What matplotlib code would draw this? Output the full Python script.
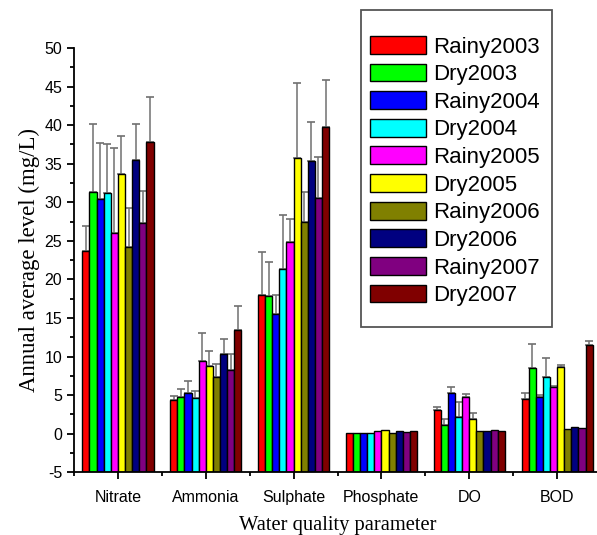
import matplotlib
matplotlib.use("Agg")
import matplotlib.pyplot as plt
import matplotlib.patches as mpatches
import numpy as np
from matplotlib.ticker import MultipleLocator, FixedLocator

plt.rcParams["axes.unicode_minus"] = False

categories = ["Nitrate", "Ammonia", "Sulphate", "Phosphate", "DO", "BOD"]
series = ["Rainy2003", "Dry2003", "Rainy2004", "Dry2004", "Rainy2005",
          "Dry2005", "Rainy2006", "Dry2006", "Rainy2007", "Dry2007"]
colors = ["#ff0000", "#00ff00", "#0000ff", "#00ffff", "#ff00ff",
          "#ffff00", "#808000", "#000080", "#800080", "#800000"]

# values per series, ordered as categories
rainy2003 = [23.7, 4.4, 18.0, 0.05, 3.1, 4.5]
dry2003   = [31.3, 4.8, 17.9, 0.05, 1.15, 8.5]
rainy2004 = [30.4, 5.3, 15.5, 0.05, 5.3, 4.75]
dry2004   = [31.2, 4.6, 21.4, 0.05, 2.15, 7.3]
rainy2005 = [26.0, 9.4, 24.8, 0.35, 4.8, 6.0]
dry2005   = [33.7, 8.75, 35.8, 0.45, 1.9, 8.6]
rainy2006 = [24.2, 7.3, 27.4, 0.15, 0.4, 0.6]
dry2006   = [35.5, 10.3, 35.3, 0.4, 0.3, 0.9]
rainy2007 = [27.3, 8.3, 30.5, 0.25, 0.5, 0.8]
dry2007   = [37.8, 13.4, 39.7, 0.4, 0.3, 11.5]

# upper error bars
err_rainy2003 = [3.2, 0.5, 5.6, 0.0, 0.35, 0.8]
err_dry2003   = [8.8, 1.0, 4.4, 0.0, 0.8, 3.15]
err_rainy2004 = [7.3, 1.6, 2.5, 0.0, 0.8, 0.3]
err_dry2004   = [6.3, 1.0, 7.0, 0.0, 2.0, 2.5]
err_rainy2005 = [11.0, 3.6, 3.0, 0.0, 0.4, 0.15]
err_dry2005   = [4.9, 1.95, 9.7, 0.0, 0.75, 0.35]
err_rainy2006 = [5.1, 1.75, 3.9, 0.0, 0.0, 0.0]
err_dry2006   = [4.6, 2.0, 5.1, 0.0, 0.0, 0.0]
err_rainy2007 = [4.2, 2.05, 5.4, 0.0, 0.0, 0.0]
err_dry2007   = [5.9, 3.1, 6.1, 0.0, 0.0, 0.5]

values = [rainy2003, dry2003, rainy2004, dry2004, rainy2005,
          dry2005, rainy2006, dry2006, rainy2007, dry2007]
errors = [err_rainy2003, err_dry2003, err_rainy2004, err_dry2004, err_rainy2005,
          err_dry2005, err_rainy2006, err_dry2006, err_rainy2007, err_dry2007]

YMIN, YMAX = -5, 50  # bars are drawn up from the bottom of the axis

W, H = 597, 535
fig = plt.figure(figsize=(W / 100, H / 100), dpi=100)
ax = fig.add_axes([0.124, 0.1172, 0.8827, 0.793])

x = np.arange(1, len(categories) + 1)
n = len(series)
w = 0.081
handles = []
for i, (name, vals, errs, c) in enumerate(zip(series, values, errors, colors)):
    pos = x - w * n / 2 + w * (i + 0.5)
    vals_arr = np.array(vals)
    errs_arr = np.array(errs)
    yerr = np.vstack([np.zeros_like(errs_arr), errs_arr])
    b = ax.bar(pos, vals_arr - YMIN, bottom=YMIN, width=w, color=c,
               edgecolor="black", linewidth=1.0, label=name, zorder=2)
    mask = errs_arr > 0
    ax.errorbar(pos[mask], vals_arr[mask], yerr=yerr[:, mask], fmt="none",
                ecolor="#707070", elinewidth=1.1, capsize=3, capthick=1.2, zorder=1)
    handles.append(b)

ax.set_xlim(0.5, 6.5)
ax.set_ylim(YMIN, YMAX)
ax.yaxis.set_major_locator(MultipleLocator(5))
ax.yaxis.set_minor_locator(MultipleLocator(2.5))
ax.set_xticks(x)
ax.set_xticklabels(categories)
ax.xaxis.set_minor_locator(FixedLocator(np.arange(0.5, 7.0, 1.0)))
for s in ["top", "right"]:
    ax.spines[s].set_visible(False)
for s in ["left", "bottom"]:
    ax.spines[s].set_linewidth(1.3)
    ax.spines[s].set_zorder(3)
ax.tick_params(axis="both", which="major", direction="out", length=5, width=1.3,
               labelsize=11.5)
ax.tick_params(axis="x", which="major", pad=8)
ax.tick_params(axis="both", which="minor", direction="out", length=3, width=1.3)
for lab in ax.get_xticklabels() + ax.get_yticklabels():
    lab.set_fontfamily("Liberation Sans")

ax.set_ylabel("Annual average level (mg/L)", fontfamily="Liberation Serif",
              fontsize=16.4, labelpad=3)
ax.set_xlabel("Water quality parameter", fontfamily="Liberation Serif",
              fontsize=14.8, labelpad=8)

# legend (frame drawn separately to match the reference box)
leg = fig.legend(handles=handles, labels=series, loc="upper left",
                 bbox_to_anchor=(370 / W, 1 - 36 / H),
                 prop={"family": "Liberation Sans", "size": 16},
                 handlelength=2.5, handleheight=0.86, labelspacing=0.27,
                 handletextpad=0.36, borderpad=0, borderaxespad=0,
                 frameon=False)
box = mpatches.Rectangle((361 / W, 1 - 327 / H), 191 / W, 317 / H,
                         transform=fig.transFigure, fill=True, facecolor="white",
                         edgecolor="#555555", linewidth=1.3, zorder=0)
fig.patches.append(box)

fig.savefig("out.png", dpi=100)
